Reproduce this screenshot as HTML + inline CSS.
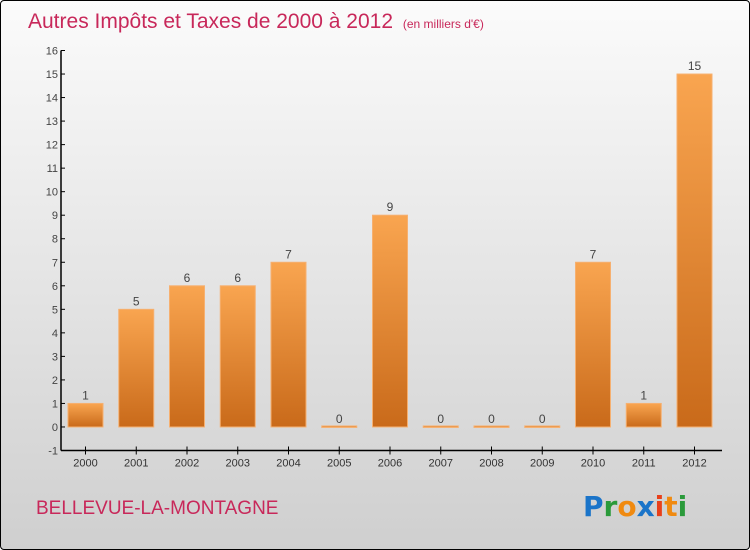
<!DOCTYPE html>
<html><head><meta charset="utf-8"><style>
body{margin:0;width:750px;height:550px;overflow:hidden;font-family:"Liberation Sans",sans-serif}
#wrap{position:absolute;left:0;top:0;width:748px;height:548px;border:1px solid #000;border-radius:4px;background:linear-gradient(#fbfbfb,#cfcfcf)}
</style></head><body>
<div id="wrap">
<svg id="chart" width="750" height="550" style="position:absolute;left:-1px;top:-1px">
<defs><linearGradient id="bg" x1="0" y1="0" x2="0" y2="1"><stop offset="0" stop-color="#f9a550"/><stop offset="1" stop-color="#c96a1a"/></linearGradient></defs>
<text x="28" y="28" font-size="21" fill="#c8285a">Autres Impôts et Taxes de 2000 à 2012 <tspan font-size="12" dx="4">(en milliers d'€)</tspan></text>
<text x="36" y="514" font-size="19" fill="#c8285a">BELLEVUE-LA-MONTAGNE</text>
<g font-size="28" font-weight="bold" font-family="'DejaVu Sans',sans-serif">
<text x="583" y="516"><tspan fill="#1a74c9">P</tspan><tspan fill="#2a9a3a">r</tspan><tspan fill="#f08a10">o</tspan><tspan fill="#1a74c9">x</tspan><tspan fill="#e8401a">i</tspan><tspan fill="#f08a10">t</tspan><tspan fill="#2a9a3a">i</tspan></text></g>
<g id="axes"></g><g id="bars"></g>
</svg></div>
<script>
const categories=["2000","2001","2002","2003","2004","2005","2006","2007","2008","2009","2010","2011","2012"];
const values=[1,5,6,6,7,0,9,0,0,0,7,1,15];
const yTicks=[-1,0,1,2,3,4,5,6,7,8,9,10,11,12,13,14,15,16];
const NS="http://www.w3.org/2000/svg";
const x0=61,yMin=-1,yMax=16,yTop=50.5,yBot=450.5;
function y(v){return yBot-(v-yMin)/(yMax-yMin)*(yBot-yTop);}
function xc(i){return 85.5+i*50.75;}
function mk(t,a,p){const e=document.createElementNS(NS,t);for(const k in a)e.setAttribute(k,a[k]);p.appendChild(e);return e;}
const ax=document.getElementById('axes'),bs=document.getElementById('bars');
const yl=mk('line',{x1:x0,y1:yTop,x2:x0,y2:yBot,stroke:'#000','stroke-width':1.5},ax);


const xl=mk('line',{x1:x0,y1:yBot,x2:722,y2:yBot,stroke:'#000','stroke-width':1.5},ax);


yTicks.forEach(v=>{
 mk('line',{x1:x0,y1:y(v),x2:x0+4,y2:y(v),stroke:'#000'},ax);
 const t=mk('text',{x:x0-3,y:y(v)+4,'font-size':11,fill:'#444','text-anchor':'end'},ax);t.textContent=v;
 
 
});
categories.forEach((c,i)=>{
 const cx=xc(i);
 mk('line',{x1:cx,y1:yBot-4,x2:cx,y2:yBot+4,stroke:'#000'},ax);
 const t=mk('text',{x:cx,y:yBot+16,'font-size':11,fill:'#333','text-anchor':'middle'},ax);t.textContent=c;
 
 
 const v=values[i];const top=y(v),h=Math.max(y(0)-top,1.5);
 const r=mk('rect',{x:cx-17.5,y:v>0?top:y(0)-1,width:35,height:h,fill:'url(#bg)',stroke:'#f6b070','stroke-width':1},bs);
 
 
 const l=mk('text',{x:cx,y:(v>0?top:y(0))-4,'font-size':12,fill:'#444','text-anchor':'middle'},bs);l.textContent=v;
 
 
});
</script>
</body></html>
